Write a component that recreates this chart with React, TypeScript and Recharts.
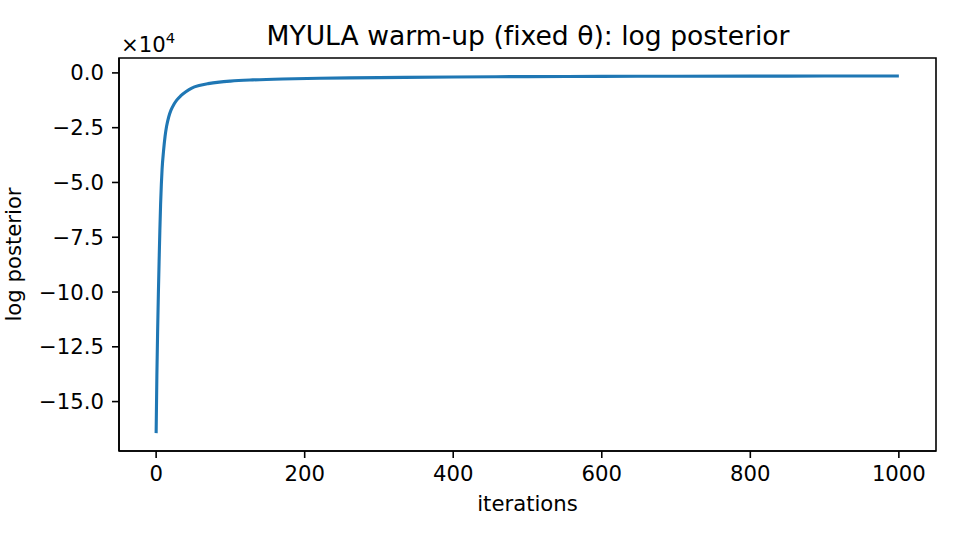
import React from "react";
import { LineChart, Line, XAxis, YAxis, ReferenceArea } from "recharts";

// iteration index and log posterior
const iterations = [
  0, 1, 2, 3, 4, 5, 6, 7, 8, 10, 12, 14, 17, 20, 24, 28, 33, 40, 48, 58, 70,
  85, 100, 130, 170, 220, 300, 400, 500, 600, 700, 800, 900, 1000,
];
const logPosterior = [
  -164400, -138000, -118000, -101000, -86000, -72000, -60000, -51000, -44000,
  -35500, -29000, -24500, -20000, -17000, -14300, -12300, -10500, -8600, -6900,
  -5750, -4900, -4200, -3750, -3200, -2750, -2450, -2150, -1850, -1680, -1580,
  -1520, -1480, -1440, -1400,
];
const xTicks = [0, 200, 400, 600, 800, 1000];
const yTicks = [0, -25000, -50000, -75000, -100000, -125000, -150000];
const xDomain = [-50, 1050];
const yDomain = [-172550, 6800];

const data = iterations.map((it, i) => ({ it, lp: logPosterior[i] }));

const FONT = "'DejaVu Sans', sans-serif";
const TICK_FS = 21.2;
const axisStyle = { stroke: "#000", strokeWidth: 1.6 };
const tickStyle = { fill: "#000", fontSize: TICK_FS };

const fmtY = (v: number) => (v / 1e4).toFixed(1).replace("-", "\u2212");

const xLabel = () => (
  <text x={527.5} y={511} textAnchor="middle" fontSize={TICK_FS} fill="#000" fontFamily={FONT}>
    iterations
  </text>
);

// y label plus title and the offset text, all in one group
const yLabel = () => (
  <g fontFamily={FONT} fill="#000" style={{ fontVariantLigatures: "none" }}>
    <text
      x={21}
      y={254.5}
      transform="rotate(-90, 21, 254.5)"
      textAnchor="middle"
      fontSize={TICK_FS}
    >
      log posterior
    </text>
    <text x={528} y={45} textAnchor="middle" fontSize={26.6}>
      MYULA warm-up (fixed θ): log posterior
    </text>
    <text x={121} y={52} fontSize={TICK_FS}>
      ×10
      <tspan dy={-9} fontSize={14.8}>
        4
      </tspan>
    </text>
  </g>
);

export default function App() {
  return (
    <div
      style={{
        position: "absolute",
        left: 0,
        top: 0,
        width: 960,
        height: 544,
        background: "#fff",
        fontFamily: FONT,
      }}
    >
      <LineChart
        width={960}
        height={544}
        data={data}
        margin={{ top: 58, right: 24, bottom: 0, left: 0 }}
      >
        <XAxis
          dataKey="it"
          type="number"
          domain={xDomain}
          ticks={xTicks}
          allowDataOverflow
          height={93}
          tickSize={7}
          tickMargin={8}
          tick={tickStyle}
          axisLine={axisStyle}
          tickLine={axisStyle}
          label={xLabel}
        />
        <YAxis
          type="number"
          domain={yDomain}
          ticks={yTicks}
          allowDataOverflow
          width={119}
          tickSize={7}
          tickMargin={8}
          tickFormatter={fmtY}
          tick={tickStyle}
          axisLine={axisStyle}
          tickLine={axisStyle}
          label={yLabel}
        />
        <ReferenceArea
          x1={xDomain[0]}
          x2={xDomain[1]}
          y1={yDomain[0]}
          y2={yDomain[1]}
          fill="none"
          stroke="#000"
          strokeWidth={1.6}
          ifOverflow="visible"
        />
        <Line
          dataKey="lp"
          type="monotone"
          stroke="#1f77b4"
          strokeWidth={3.1}
          dot={false}
          isAnimationActive={false}
        />
      </LineChart>
    </div>
  );
}
